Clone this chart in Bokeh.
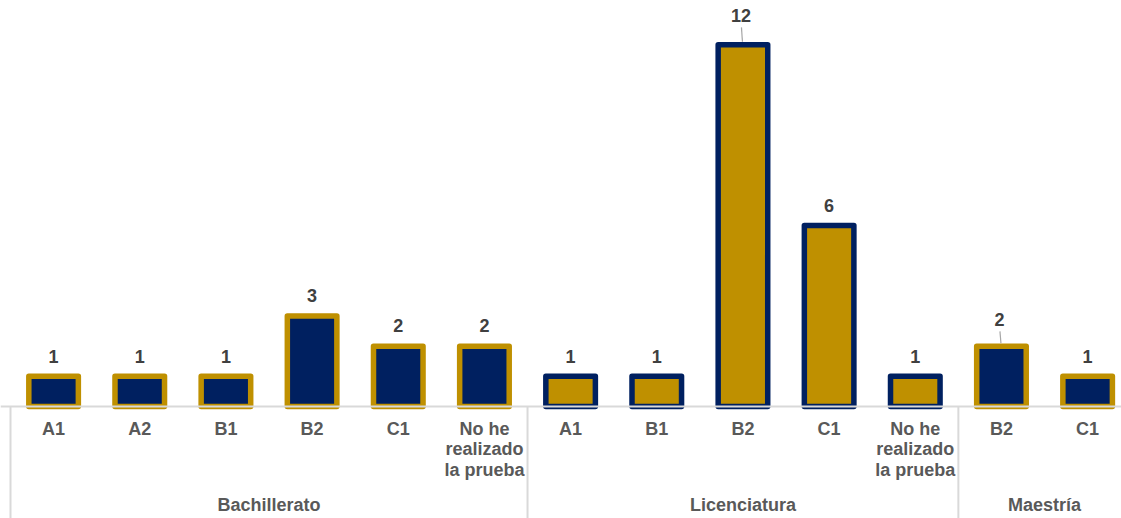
from bokeh.plotting import figure
from bokeh.models import Range1d, ColumnDataSource
from bokeh.embed import file_html
from bokeh.resources import INLINE
from bokeh.core.properties import value

# Respondents by education level and language certificate level
group_names = ["Bachillerato", "Licenciatura", "Maestría"]
levels = [
    ["A1", "A2", "B1", "B2", "C1", "No he\nrealizado\nla prueba"],
    ["A1", "B1", "B2", "C1", "No he\nrealizado\nla prueba"],
    ["B2", "C1"],
]
counts = [
    [1, 1, 1, 3, 2, 2],
    [1, 1, 12, 6, 1],
    [2, 1],
]

GOLD = "#BF9000"
NAVY = "#002060"
group_fill = [NAVY, GOLD, NAVY]
group_line = [GOLD, NAVY, GOLD]

FONT = "Liberation Sans"
W, H = 1121, 518
LEFT = 10.0      # pixel x where the first category slot begins
SLOT = 86.17     # pixel width of a category slot
BASE = 406.0     # pixel y of the zero line
UNIT = 30.15     # pixels per count
TXT = 7.0        # baseline correction for the svg text renderer, px


def py(px):
    """Pixel row -> data y."""
    return (BASE - px) / UNIT


def dx(px):
    return px / SLOT


p = figure(
    width=W, height=H,
    x_range=Range1d(-LEFT / SLOT, (W - LEFT) / SLOT),
    y_range=Range1d(py(H), py(0)),
    output_backend="svg", toolbar_location=None,
    min_border=0, outline_line_color=None,
    background_fill_color="white", border_fill_color="white",
)
p.axis.visible = False
p.grid.visible = False

# flatten groups into slots
xs, ys, fills, lines, cats = [], [], [], [], []
pos = 0
group_spans = []
for g, (name, labs, vals) in enumerate(zip(group_names, levels, counts)):
    start = pos
    for lab, v in zip(labs, vals):
        xs.append(pos + 0.5)
        ys.append(v)
        fills.append(group_fill[g])
        lines.append(group_line[g])
        cats.append(lab)
        pos += 1
    group_spans.append((start, pos))

src = ColumnDataSource(dict(x=xs, top=ys, fill=fills, line=lines))
p.vbar(x="x", top="top", bottom=0, width=0.575, source=src,
       fill_color="fill", line_color="line", line_width=5.5,
       line_join="round")

# zero line and group separators
p.segment(x0=[dx(-LEFT)], y0=[0], x1=[dx(W)], y1=[0],
          line_color="#D9D9D9", line_width=2)
sep_x = [s for s, _ in group_spans]
p.segment(x0=sep_x, y0=[0] * len(sep_x), x1=sep_x, y1=[py(H)] * len(sep_x),
          line_color="#D9D9D9", line_width=2)

# value labels; crowded ones are lifted and tied to their bar by a leader
lift = {8: 9.0, 11: 6.5}
lab_x, lab_y, lab_t = [], [], []
lead_x0, lead_y0, lead_x1, lead_y1 = [], [], [], []
for i, (x, v) in enumerate(zip(xs, ys)):
    up = lift.get(i, 0.0)
    shift = -2.0 if up else 0.0
    lab_x.append(x + dx(shift))
    lab_y.append(v + (13.3 + up + TXT) / UNIT)
    lab_t.append(str(v))
    if up:
        lead_x0.append(x + dx(shift + 0.5))
        lead_y0.append(v + (13.3 + up - 5) / UNIT)
        lead_x1.append(x + dx(-0.5))
        lead_y1.append(v + 3.0 / UNIT)
p.segment(x0=lead_x0, y0=lead_y0, x1=lead_x1, y1=lead_y1,
          line_color="#A6A6A6", line_width=1.2)
p.text(x=lab_x, y=lab_y, text=lab_t, text_font=value(FONT),
       text_font_style="bold", text_font_size="18px", text_color="#404040",
       text_align="center", text_baseline="alphabetic")

# category labels (one glyph row per text line)
cx, cy, ct = [], [], []
for x, lab in zip(xs, cats):
    for k, line in enumerate(lab.split("\n")):
        cx.append(x)
        cy.append(py(435.0 - TXT + k * 20.8))
        ct.append(line)
p.text(x=cx, y=cy, text=ct, text_font=value(FONT), text_font_style="bold",
       text_font_size="18px", text_color="#595959",
       text_align="center", text_baseline="alphabetic")

# group labels
gx = [(s + e) / 2 for s, e in group_spans]
p.text(x=gx, y=[py(511.7 - TXT)] * len(gx), text=group_names,
       text_font=value(FONT), text_font_style="bold", text_font_size="18px",
       text_color="#595959", text_align="center", text_baseline="alphabetic")

open("out.html", "w").write(file_html(p, INLINE))
